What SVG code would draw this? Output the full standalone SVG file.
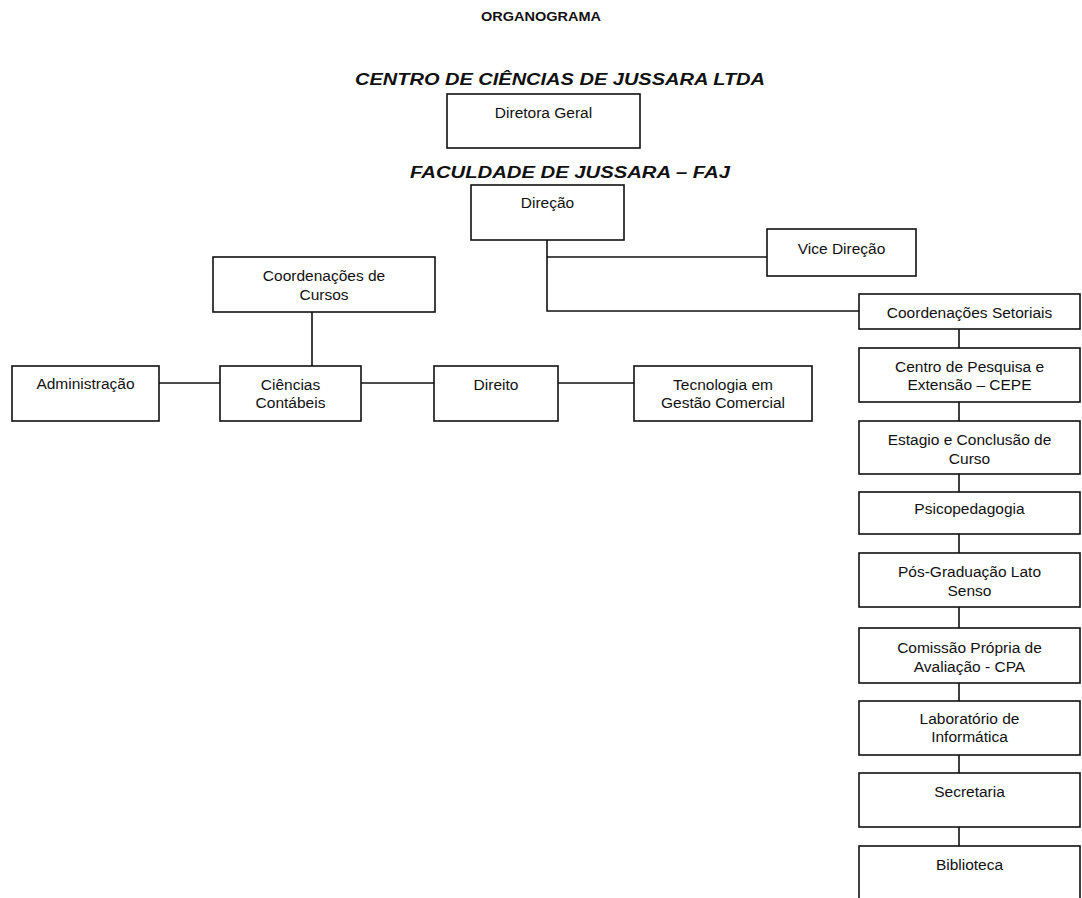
<svg xmlns="http://www.w3.org/2000/svg" width="1082" height="898" viewBox="0 0 1082 898">
<style>
.box{fill:#fff;stroke:#111;stroke-width:1.6}
.t{font-family:"Liberation Sans",Arial,sans-serif;font-size:15.5px;fill:#111;text-anchor:middle}
.h{font-family:"Liberation Sans",Arial,sans-serif;font-weight:bold;font-style:italic;font-size:16px;fill:#111}
.ttl{font-family:"Liberation Sans",Arial,sans-serif;font-weight:bold;font-size:12.5px;fill:#111}
.c{fill:none;stroke:#111;stroke-width:1.6}
</style>
<rect width="1082" height="898" fill="#fff"/>
<text class="ttl" x="481" y="21" textLength="120" lengthAdjust="spacingAndGlyphs">ORGANOGRAMA</text>
<text class="h" x="355" y="85" textLength="410" lengthAdjust="spacingAndGlyphs">CENTRO DE CIÊNCIAS DE JUSSARA LTDA</text>
<text class="h" x="410" y="178" textLength="320" lengthAdjust="spacingAndGlyphs">FACULDADE DE JUSSARA – FAJ</text>
<g id="connectors">
<path class="c" d="M547 240V311H859M547 257H767"/>
<path class="c" d="M312 312V366M159 383H220M361 383H434M558 383H634"/>
<path class="c" d="M959 329V348M959 402V421M959 474V492M959 534V553M959 607V628M959 683V701M959 755V773M959 827V846"/>
</g>
<g id="n-diretora"><rect class="box" x="447" y="94" width="193" height="54"/><text class="t" x="543.5" y="118">Diretora Geral</text></g>
<g id="n-direcao"><rect class="box" x="471" y="185" width="153" height="55"/><text class="t" x="547.5" y="208">Direção</text></g>
<g id="n-vice"><rect class="box" x="767" y="229" width="149" height="47"/><text class="t" x="841.5" y="254">Vice Direção</text></g>
<g id="n-coordset"><rect class="box" x="859" y="294" width="221" height="35"/><text class="t" x="969.5" y="318">Coordenações Setoriais</text></g>
<g id="n-cepe"><rect class="box" x="859" y="348" width="221" height="54"/><text class="t" x="969.5" y="371.5">Centro de Pesquisa e</text><text class="t" x="969.5" y="390">Extensão – CEPE</text></g>
<g id="n-estagio"><rect class="box" x="859" y="421" width="221" height="53"/><text class="t" x="969.5" y="445">Estagio e Conclusão de</text><text class="t" x="969.5" y="463.5">Curso</text></g>
<g id="n-psico"><rect class="box" x="859" y="492" width="221" height="42"/><text class="t" x="969.5" y="514">Psicopedagogia</text></g>
<g id="n-pos"><rect class="box" x="859" y="553" width="221" height="54"/><text class="t" x="969.5" y="577">Pós-Graduação Lato</text><text class="t" x="969.5" y="595.5">Senso</text></g>
<g id="n-cpa"><rect class="box" x="859" y="628" width="221" height="55"/><text class="t" x="969.5" y="653">Comissão Própria de</text><text class="t" x="969.5" y="672">Avaliação - CPA</text></g>
<g id="n-lab"><rect class="box" x="859" y="701" width="221" height="54"/><text class="t" x="969.5" y="723.5">Laboratório de</text><text class="t" x="969.5" y="742">Informática</text></g>
<g id="n-secretaria"><rect class="box" x="859" y="773" width="221" height="54"/><text class="t" x="969.5" y="797">Secretaria</text></g>
<g id="n-biblioteca"><rect class="box" x="859" y="846" width="221" height="70"/><text class="t" x="969.5" y="870">Biblioteca</text></g>
<g id="n-coordcursos"><rect class="box" x="213" y="257" width="222" height="55"/><text class="t" x="324" y="280.5">Coordenações de</text><text class="t" x="324" y="300">Cursos</text></g>
<g id="n-admin"><rect class="box" x="12" y="366" width="147" height="55"/><text class="t" x="85.5" y="388.5">Administração</text></g>
<g id="n-contabeis"><rect class="box" x="220" y="366" width="141" height="55"/><text class="t" x="290.5" y="390">Ciências</text><text class="t" x="290.5" y="408">Contábeis</text></g>
<g id="n-direito"><rect class="box" x="434" y="366" width="124" height="55"/><text class="t" x="496" y="390">Direito</text></g>
<g id="n-tecnologia"><rect class="box" x="634" y="366" width="178" height="55"/><text class="t" x="723" y="390">Tecnologia em</text><text class="t" x="723" y="408">Gestão Comercial</text></g>
</svg>
